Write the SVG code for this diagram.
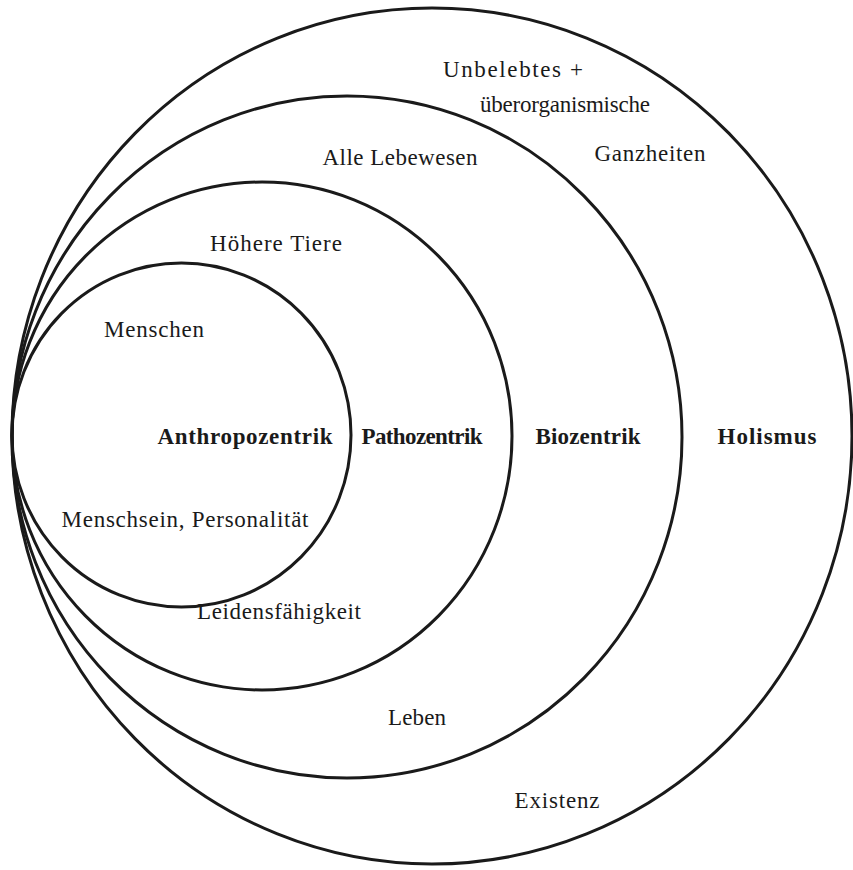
<svg xmlns="http://www.w3.org/2000/svg" width="853" height="870" viewBox="0 0 853 870">
<style>
.c{fill:none;stroke:#1a1a1a;stroke-width:3}
text{font-family:"Liberation Serif","Times New Roman",serif;font-size:23px;fill:#1a1a1a;text-anchor:middle}
.b{font-weight:bold}
</style>
<rect width="853" height="870" fill="#fff"/>
<g id="holismus">
<ellipse class="c" cx="432" cy="436" rx="420" ry="428"/>
<text x="513" y="77" textLength="140">Unbelebtes +</text>
<text x="565" y="112" textLength="170">überorganismische</text>
<text x="650" y="161" textLength="111">Ganzheiten</text>
<text class="b" x="767" y="444" textLength="99">Holismus</text>
<text x="557" y="808" textLength="85">Existenz</text>
</g>
<g id="biozentrik">
<ellipse class="c" cx="347" cy="437" rx="335" ry="341"/>
<text x="400" y="165" textLength="155">Alle Lebewesen</text>
<text class="b" x="588" y="444" textLength="105">Biozentrik</text>
<text x="417" y="725" textLength="58">Leben</text>
</g>
<g id="pathozentrik">
<ellipse class="c" cx="262" cy="436" rx="250" ry="254"/>
<text x="276" y="251" textLength="132">Höhere Tiere</text>
<text class="b" x="422" y="444" textLength="121">Pathozentrik</text>
<text x="279" y="619" textLength="164">Leidensfähigkeit</text>
</g>
<g id="anthropozentrik">
<ellipse class="c" cx="181.5" cy="435" rx="169.5" ry="172"/>
<text x="154" y="337" textLength="100">Menschen</text>
<text class="b" x="245" y="444" textLength="175">Anthropozentrik</text>
<text x="185" y="527" textLength="247">Menschsein, Personalität</text>
</g>
<g id="connectors"></g>
</svg>
